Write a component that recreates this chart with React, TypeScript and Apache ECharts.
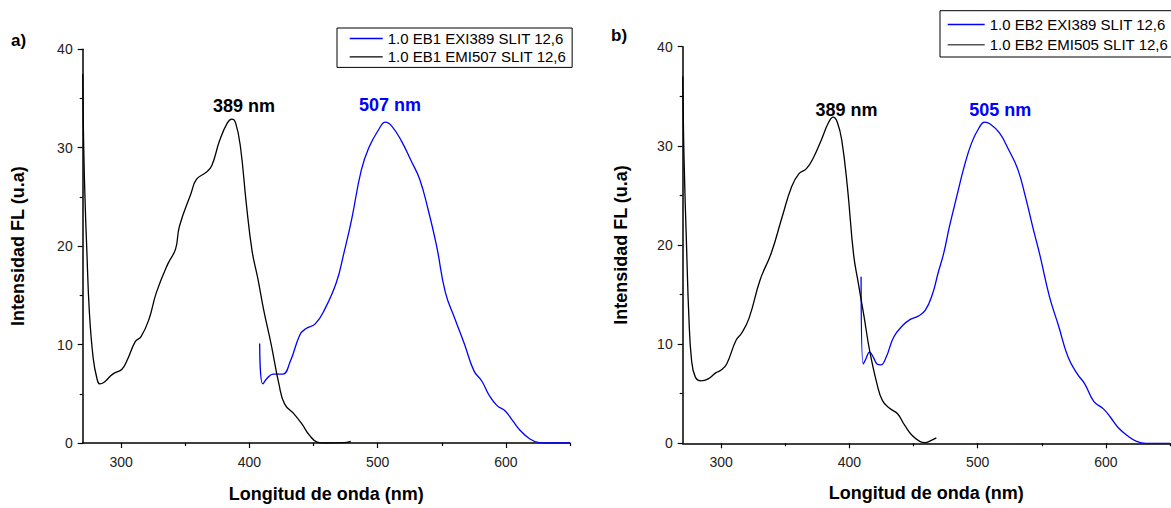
import React, { useEffect, useRef } from "react";
import * as echarts from "echarts";

// Panel a) — EB1
const aExcName = "1.0 EB1 EMI507 SLIT 12,6";
const aExcX = [270, 270.8, 272, 273.1, 275.2, 278.2, 281.2, 283.3, 287, 291.6, 294.6, 300.6, 305, 311, 315.5, 321.5, 327.5, 336.4, 342.4, 345.4, 354.3, 358.8, 366.3, 370.7, 376.7, 382.7, 386.3, 389.3, 393.1, 397.6, 402.1, 406.6, 411, 417, 423, 427.5, 434.9, 440.9, 446.9, 452.8, 458.8, 473.7, 479];
const aExcY = [37.5, 30, 24, 20, 13.3, 8.6, 6.5, 6.0, 6.2, 6.8, 7.1, 7.5, 8.5, 10.3, 10.8, 12.5, 15.3, 18.2, 19.7, 22, 25.3, 26.8, 27.5, 28.2, 30.7, 32.5, 32.9, 32.5, 30, 24.3, 19.5, 16.7, 13.6, 10, 6.0, 3.95, 2.94, 1.94, 0.77, 0.1, 0, 0.03, 0.17];

const aEmName = "1.0 EB1 EXI389 SLIT 12,6";
const aEmX = [408, 410.4, 414, 418.5, 426, 431.9, 439.4, 443.9, 451.3, 458.8, 467.8, 473.7, 479.7, 487.2, 493.1, 500.6, 506, 511, 518.5, 526, 532.8, 539.4, 546, 552.8, 560.3, 567.8, 575.2, 581.2, 587.2, 593.1, 599.1, 605.1, 611, 618.5, 626, 632, 650];
const aEmY = [10.1, 6.0, 6.6, 7.0, 7.0, 8.3, 11.0, 11.6, 12.1, 13.6, 16.3, 19.3, 22.7, 27.7, 30, 31.8, 32.6, 32.2, 30.7, 28.7, 26.8, 23.7, 20, 15.3, 12.6, 10, 7.3, 6.3, 4.8, 3.8, 3.3, 2.3, 1.3, 0.43, 0.03, 0, 0];

// Panel b) — EB2
const bExcName = "1.0 EB2 EMI505 SLIT 12,6";
const bExcX = [270, 271, 273.1, 274.8, 276.9, 279.8, 284.1, 289.9, 295.7, 300, 304.3, 311.6, 315.9, 321.7, 330.4, 339.1, 347.7, 355, 360.7, 366.5, 372.3, 378.1, 383.9, 387.4, 390.5, 394, 398.4, 403.3, 407, 411.4, 415.7, 421.5, 425.8, 431.6, 437.4, 443.2, 449, 454.8, 459.1, 463.4, 467.8];
const bExcY = [37, 29, 19.5, 12.8, 8.4, 6.7, 6.3, 6.5, 7.1, 7.4, 8.0, 10.4, 11.1, 12.6, 16.5, 19.2, 22.9, 25.9, 27.2, 27.7, 28.9, 30.6, 32.4, 32.9, 32.4, 30.6, 25.9, 19, 16.1, 12.8, 9.4, 6.0, 4.3, 3.5, 3.0, 1.8, 0.78, 0.2, 0.07, 0.27, 0.54];

const bEmName = "1.0 EB2 EXI389 SLIT 12,6";
const bEmX = [409.1, 410.8, 412.8, 415.7, 418.6, 421.5, 424.4, 428.7, 434.5, 441.7, 447.5, 453.3, 459.1, 464.9, 469.2, 473.6, 477.9, 483.7, 489.5, 495.3, 501, 505.4, 509.8, 517, 524.2, 531.4, 537.2, 543, 548.5, 556, 563.2, 570.5, 577.7, 583.5, 590.7, 597.9, 603.7, 609.5, 616.7, 624, 631.2, 650];
const bEmY = [16.8, 8.0, 8.5, 9.2, 8.7, 8.0, 7.9, 8.7, 10.7, 11.9, 12.5, 12.8, 13.4, 15.1, 17.2, 19.2, 21.8, 24.9, 27.9, 30.3, 31.8, 32.4, 32.2, 31.3, 29.6, 27.6, 24.9, 21.8, 19, 14.8, 11.8, 8.7, 7.0, 6.0, 4.2, 3.5, 2.6, 1.6, 0.78, 0.2, 0, 0];

// Axis ticks / labels
const xMin = 270;
const xMax = 650;
const xMajor = [300, 400, 500, 600];
const xMinor = [350, 450, 550, 650];
const yMin = 0;
const yMax = 40;
const yInterval = 10;

// Peak annotations: [text, wavelength position, height position, colour]
const aPeaks: [string, number, number, string][] = [
  ["389 nm", 395.7, 34.2, "#000000"],
  ["507 nm", 509.6, 34.3, "#0000ff"],
];
const bPeaks: [string, number, number, string][] = [
  ["389 nm", 397.7, 33.6, "#000000"],
  ["505 nm", 517.7, 33.6, "#0000ff"],
];

const FONT = "'Liberation Sans', Arial, Helvetica, sans-serif";
const BLUE = "#0000ff";

const zip = (xs: number[], ys: number[]) => xs.map((x, i) => [x, ys[i]]);

function xAxes(gridIndex: number, nameGap: number) {
  return [
    {
      type: "value",
      gridIndex,
      position: "bottom",
      min: xMin,
      max: xMax,
      name: "Longitud de onda (nm)",
      nameLocation: "middle",
      nameGap,
      nameTextStyle: { fontFamily: FONT, fontSize: 18, fontWeight: "bold", color: "#000" },
      axisLine: { show: true, onZero: false, lineStyle: { color: "#000", width: 1.5 } },
      axisTick: { show: true, customValues: xMajor, length: 5, lineStyle: { color: "#000", width: 1.2 } },
      axisLabel: { show: true, customValues: xMajor, margin: 12, fontFamily: FONT, fontSize: 14, color: "#222" },
      splitLine: { show: false },
    },
    {
      type: "value",
      gridIndex,
      position: "bottom",
      min: xMin,
      max: xMax,
      axisLine: { show: false },
      axisTick: { show: true, customValues: xMinor, length: 3, lineStyle: { color: "#000", width: 1.2 } },
      axisLabel: { show: false },
      splitLine: { show: false },
    },
  ];
}

function yAxis(gridIndex: number, nameGap: number) {
  return {
    type: "value",
    gridIndex,
    min: yMin,
    max: yMax,
    interval: yInterval,
    name: "Intensidad FL (u.a)",
    nameLocation: "middle",
    nameGap,
    nameRotate: 90,
    nameTextStyle: { fontFamily: FONT, fontSize: 18, fontWeight: "bold", color: "#000" },
    axisLine: { show: true, onZero: false, lineStyle: { color: "#000", width: 1.5 } },
    axisTick: { show: true, length: 5, lineStyle: { color: "#000", width: 1.2 } },
    minorTick: { show: true, splitNumber: 2, length: 3, lineStyle: { color: "#000", width: 1.2 } },
    axisLabel: { margin: 10, fontFamily: FONT, fontSize: 14, color: "#222" },
    splitLine: { show: false },
    minorSplitLine: { show: false },
  };
}

function peakMarks(peaks: [string, number, number, string][]) {
  return {
    symbol: "circle",
    symbolSize: 0,
    silent: true,
    data: peaks.map(([t, x, y, c]) => ({
      coord: [x, y],
      label: {
        show: true,
        position: "inside",
        formatter: t,
        fontFamily: FONT,
        fontSize: 18,
        fontWeight: "bold",
        color: c,
      },
    })),
  };
}

function lineSeries(name: string, xs: number[], ys: number[], color: string, xi: number, yi: number, peaks?: any) {
  return {
    type: "line",
    name,
    xAxisIndex: xi,
    yAxisIndex: yi,
    data: zip(xs, ys),
    symbol: "none",
    smooth: 0.45,
    lineStyle: { color, width: 1.3 },
    itemStyle: { color },
    markPoint: peaks,
  };
}

export default function App() {
  const ref = useRef<HTMLDivElement>(null);
  useEffect(() => {
    if (!ref.current) return;
    const chart = echarts.init(ref.current, undefined, { renderer: "svg" });
    const legendText = { fontFamily: FONT, fontSize: 15, color: "#000", lineHeight: 14 };
    chart.setOption({
      animation: false,
      backgroundColor: "#ffffff",
      grid: [
        { left: 82.7, top: 49.3, width: 487.3, height: 400 },
        { left: 682.7, top: 46.7, width: 487.3, height: 396.6 },
      ],
      xAxis: [...xAxes(0, 42), ...xAxes(1, 41)],
      yAxis: [yAxis(0, 56), yAxis(1, 53)],
      legend: [
        {
          orient: "vertical",
          left: 337,
          top: 28,
          data: [aEmName, aExcName],
          icon: "rect",
          itemWidth: 33,
          itemHeight: 1.4,
          itemGap: 3.4,
          padding: [3, 6, 3, 12.7],
          borderColor: "#000",
          borderWidth: 1,
          textStyle: legendText,
          selectedMode: false,
        },
        {
          orient: "vertical",
          left: 940,
          top: 10.7,
          data: [
            { name: bEmName },
            { name: bExcName, itemStyle: { color: "#555" } },
          ],
          icon: "rect",
          itemWidth: 37,
          itemHeight: 1.4,
          itemGap: 5.3,
          padding: [6.3, 4, 4.7, 7.7],
          borderColor: "#000",
          borderWidth: 1,
          textStyle: legendText,
          selectedMode: false,
        },
      ],
      graphic: [
        { type: "text", left: 11, top: 32, style: { text: "a)", fontFamily: FONT, fontSize: 17, fontWeight: "bold", fill: "#000" } },
        { type: "text", left: 611, top: 27, style: { text: "b)", fontFamily: FONT, fontSize: 17, fontWeight: "bold", fill: "#000" } },
      ],
      series: [
        lineSeries(aEmName, aEmX, aEmY, BLUE, 0, 0, peakMarks([aPeaks[1]])),
        lineSeries(aExcName, aExcX, aExcY, "#000000", 0, 0, peakMarks([aPeaks[0]])),
        lineSeries(bEmName, bEmX, bEmY, BLUE, 2, 1, peakMarks([bPeaks[1]])),
        lineSeries(bExcName, bExcX, bExcY, "#000000", 2, 1, peakMarks([bPeaks[0]])),
      ],
    });
    return () => chart.dispose();
  }, []);
  return (
    <div
      ref={ref}
      style={{ position: "fixed", left: 0, top: 0, width: 1171, height: 508, background: "#fff" }}
    />
  );
}
